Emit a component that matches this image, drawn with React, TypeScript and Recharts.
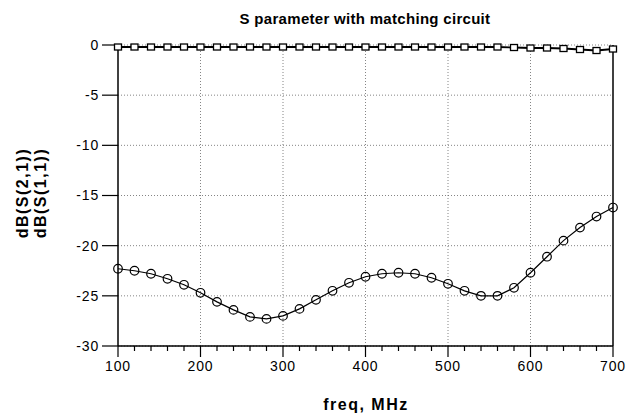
import React from 'react';
import { LineChart, Line, XAxis, YAxis, CartesianGrid, ReferenceLine } from 'recharts';

const freq = [100, 120, 140, 160, 180, 200, 220, 240, 260, 280, 300, 320, 340, 360, 380, 400, 420, 440, 460, 480, 500, 520, 540, 560, 580, 600, 620, 640, 660, 680, 700];
const s21 = [-0.2, -0.2, -0.2, -0.2, -0.2, -0.2, -0.2, -0.2, -0.2, -0.2, -0.2, -0.2, -0.2, -0.2, -0.2, -0.2, -0.2, -0.2, -0.2, -0.2, -0.2, -0.2, -0.2, -0.2, -0.25, -0.3, -0.3, -0.35, -0.45, -0.55, -0.4];
const s11 = [-22.3, -22.5, -22.8, -23.3, -23.9, -24.7, -25.6, -26.4, -27.1, -27.3, -27.0, -26.3, -25.4, -24.5, -23.7, -23.1, -22.8, -22.7, -22.8, -23.2, -23.8, -24.5, -25.0, -25.0, -24.2, -22.7, -21.1, -19.5, -18.2, -17.1, -16.2];
const xTicks = [100, 200, 300, 400, 500, 600, 700];
const yTicks = [-30, -25, -20, -15, -10, -5, 0];
const gridX = [200, 300, 400, 500, 600];

const title = 'S parameter with matching circuit';
const xLabel = 'freq, MHz';
const yLabel1 = 'dB(S(2,1))';
const yLabel2 = 'dB(S(1,1))';

const data = freq.map((f, i) => ({ f, s21: s21[i], s11: s11[i] }));

const FONT = '"Liberation Sans", Arial, sans-serif';

const XTick = (props: any) => {
  const { x, y, payload } = props;
  const major = xTicks.includes(payload.value);
  return (
    <g>
      <line x1={x} x2={x} y1={y} y2={y + (major ? 11 : 5)} stroke="#000" strokeWidth={1.2} />
      {major && (
        <text x={x} y={y + 25} textAnchor="middle" fontSize={14} fontFamily={FONT} letterSpacing={0.8} fill="#000">
          {payload.value}
        </text>
      )}
    </g>
  );
};

const SquareDot = (p: any) => {
  const { cx, cy, index } = p;
  return <rect key={'sq' + index} x={cx - 3.5} y={cy - 3} width={7} height={6} fill="#fff" stroke="#000" strokeWidth={1.3} />;
};

const CircleDot = (p: any) => {
  const { cx, cy, index } = p;
  return <circle key={'ci' + index} cx={cx} cy={cy} r={4.3} fill="none" stroke="#000" strokeWidth={1.2} />;
};

export default function App() {
  return (
    <div style={{ position: 'absolute', left: 0, top: 0, width: 640, height: 419, background: '#fff' }}>
      <LineChart width={640} height={419} data={data} margin={{ top: 45, right: 27, bottom: 0, left: 0 }}>
        <CartesianGrid vertical={false} stroke="#666" strokeDasharray="1 2" strokeWidth={0.8} />
        {gridX.map((g) => (
          <ReferenceLine key={g} x={g} stroke="#666" strokeDasharray="1 2" strokeWidth={0.8} />
        ))}
        <ReferenceLine x={700} stroke="#000" strokeWidth={1.5} />
        <XAxis
          dataKey="f"
          type="number"
          domain={[100, 700]}
          ticks={freq}
          interval={0}
          height={73}
          tickSize={0}
          tickMargin={0}
          tickLine={false}
          tick={<XTick />}
          axisLine={{ stroke: '#000', strokeWidth: 1.5 }}
        />
        <YAxis
          type="number"
          domain={[-30, 0]}
          ticks={yTicks}
          interval={0}
          width={118}
          tickSize={16}
          tickMargin={3}
          tickLine={{ stroke: '#000', strokeWidth: 1.2 }}
          axisLine={{ stroke: '#000', strokeWidth: 1.5 }}
          tick={{ fontSize: 14, fill: '#000', fontFamily: FONT, letterSpacing: 0.8 }}
        />
        <Line dataKey="s11" stroke="#000" strokeWidth={1.2} dot={CircleDot} isAnimationActive={false} />
        <Line dataKey="s21" stroke="#000" strokeWidth={1.8} dot={SquareDot} isAnimationActive={false} />
      </LineChart>
      <svg width={640} height={419} style={{ position: 'absolute', left: 0, top: 0, pointerEvents: 'none' }}>
        <text x={365} y={24} textAnchor="middle" fontSize={15} fontWeight="bold" fontFamily={FONT} letterSpacing={0.3} fill="#000">
          {title}
        </text>
        <text x={366} y={410} textAnchor="middle" fontSize={16} fontWeight="bold" fontFamily={FONT} letterSpacing={1.5} fill="#000">
          {xLabel}
        </text>
        <text x={28} y={193} textAnchor="middle" fontSize={16} fontWeight="bold" fontFamily={FONT} letterSpacing={1.5} fill="#000" transform="rotate(-90 28 193)">
          {yLabel1}
        </text>
        <text x={46} y={193} textAnchor="middle" fontSize={16} fontWeight="bold" fontFamily={FONT} letterSpacing={1.5} fill="#000" transform="rotate(-90 46 193)">
          {yLabel2}
        </text>
      </svg>
    </div>
  );
}
